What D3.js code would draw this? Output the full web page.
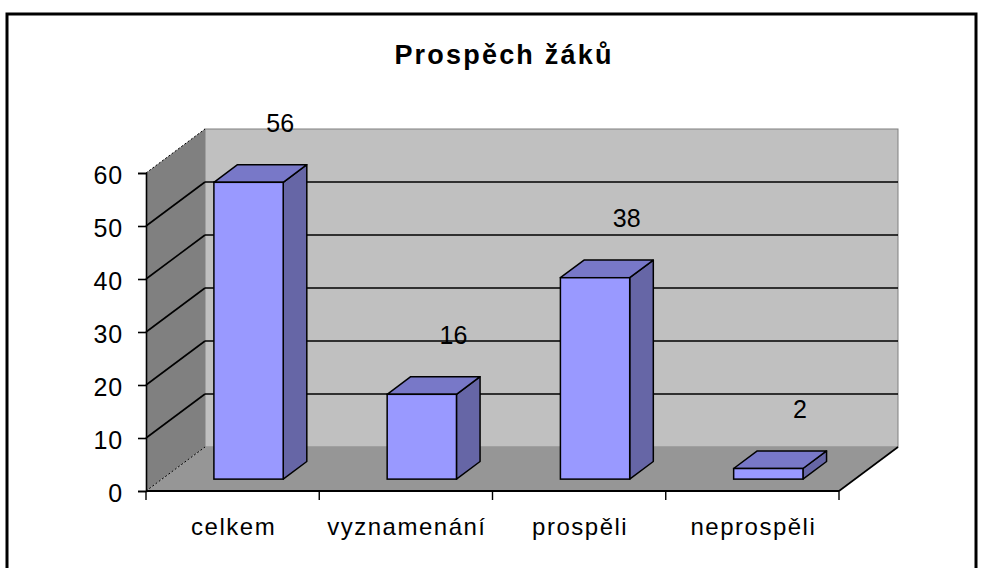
<!DOCTYPE html>
<html>
<head>
<meta charset="utf-8">
<script src="https://cdn.jsdelivr.net/npm/d3@7"></script>
<style>
  body { margin: 0; background: #fff; }
  text { font-family: "Liberation Sans", Arial, sans-serif; fill: #000; }
</style>
</head>
<body>
<script>
// Chart data
var title = 'Prospěch žáků';
var categories = ['celkem', 'vyznamenání', 'prospěli', 'neprospěli'];
var values = [56, 16, 38, 2];
var yTicks = [0, 10, 20, 30, 40, 50, 60];

// Plot boundaries (front plane of the 3D box)
var W = 986, H = 568;
var front = {left: 146, right: 839, top: 173, bottom: 491};
var depthX = 59, depthY = -44;           // oblique offset of the back wall
var barFront = 0.27, barBack = 0.67;     // bar position inside the depth

var xScale = d3.scaleBand().domain(categories).range([front.left, front.right]),
    yScale = d3.scaleLinear().domain([0, 60]).range([front.bottom, front.top]),
    zScale = d3.scaleLinear().domain([0, 1]).range([0, 1]);

function px(x, z) { return x + depthX * zScale(z); }
function py(y, z) { return y + depthY * zScale(z); }
function poly(pts) { return pts.map(function(p) { return p.join(','); }).join(' '); }

var svg = d3.select('body').append('svg')
    .attr('width', W)
    .attr('height', H);

// Outer chart border
svg.append('rect')
   .attr('x', 7).attr('y', 14)
   .attr('width', 969).attr('height', 620)
   .attr('fill', '#fff')
   .attr('stroke', '#000')
   .attr('stroke-width', 3);

// Title
svg.append('text')
   .text(title)
   .attr('x', 504).attr('y', 64)
   .attr('text-anchor', 'middle')
   .style('font-size', '27px')
   .style('font-weight', 'bold')
   .style('letter-spacing', '2.2px');

var y0 = yScale(0), yTop = yScale(60);

// Back wall
svg.append('rect')
   .attr('x', px(front.left, 1)).attr('y', py(yTop, 1))
   .attr('width', front.right - front.left)
   .attr('height', y0 - yTop)
   .attr('fill', '#c0c0c0')
   .attr('stroke', '#808080')
   .attr('stroke-width', 1);

// Left wall
svg.append('polygon')
   .attr('points', poly([[front.left, yTop], [px(front.left, 1), py(yTop, 1)],
                         [px(front.left, 1), py(y0, 1)], [front.left, y0]]))
   .attr('fill', '#808080');

// Floor
svg.append('polygon')
   .attr('points', poly([[front.left, y0], [front.right, y0],
                         [px(front.right, 1), py(y0, 1)], [px(front.left, 1), py(y0, 1)]]))
   .attr('fill', '#969696');

// Gridlines on back and left walls
var grid = yTicks.filter(function(t) { return t > 0 && t < 60; });
svg.selectAll('.gridBack').data(grid).enter().append('line')
   .attr('x1', px(front.left, 1)).attr('x2', px(front.right, 1))
   .attr('y1', function(d) { return py(yScale(d), 1); })
   .attr('y2', function(d) { return py(yScale(d), 1); })
   .attr('stroke', '#000').attr('stroke-width', 1.6);
svg.selectAll('.gridLeft').data(grid).enter().append('line')
   .attr('x1', front.left).attr('x2', px(front.left, 1))
   .attr('y1', function(d) { return yScale(d); })
   .attr('y2', function(d) { return py(yScale(d), 1); })
   .attr('stroke', '#000').attr('stroke-width', 1.6);

// Dotted edges of the left wall
[60, 0].forEach(function(t) {
  svg.append('line')
     .attr('x1', front.left).attr('y1', yScale(t))
     .attr('x2', px(front.left, 1)).attr('y2', py(yScale(t), 1))
     .attr('stroke', '#000').attr('stroke-width', 1)
     .attr('stroke-dasharray', '2,2');
});

// Right edge of the floor
svg.append('line')
   .attr('x1', front.right).attr('y1', y0)
   .attr('x2', px(front.right, 1)).attr('y2', py(y0, 1))
   .attr('stroke', '#000').attr('stroke-width', 1.6);

// Bars
var bw = xScale.bandwidth() * 0.4,
    bOff = (xScale.bandwidth() - bw) / 2,
    dz = barBack - barFront;

var bars = svg.selectAll('.bar').data(values).enter().append('g');

bars.each(function(v, i) {
  var g = d3.select(this);
  var x0 = px(xScale(categories[i]) + bOff, barFront),
      x1 = x0 + bw,
      yT = py(yScale(v), barFront),
      yB = py(y0, barFront),
      ox = depthX * dz, oy = depthY * dz;

  g.append('polygon')   // side
   .attr('points', poly([[x1, yT], [x1 + ox, yT + oy], [x1 + ox, yB + oy], [x1, yB]]))
   .attr('fill', '#6666a6').attr('stroke', '#000').attr('stroke-width', 1.5)
   .attr('stroke-linejoin', 'round');
  g.append('polygon')   // top
   .attr('points', poly([[x0, yT], [x1, yT], [x1 + ox, yT + oy], [x0 + ox, yT + oy]]))
   .attr('fill', '#7878c8').attr('stroke', '#000').attr('stroke-width', 1.5)
   .attr('stroke-linejoin', 'round');
  g.append('rect')      // front
   .attr('x', x0).attr('y', yT)
   .attr('width', bw).attr('height', yB - yT)
   .attr('fill', '#9999ff').attr('stroke', '#000').attr('stroke-width', 1.5);

  // Value label
  svg.append('text')
     .text(v)
     .attr('x', (x0 + x1) / 2 + ox + 8)
     .attr('y', yT + oy - 33)
     .attr('text-anchor', 'middle')
     .style('font-size', '25px');
});

// Y-axis
var yAxis = svg.append('g')
   .attr('transform', 'translate(' + front.left + ',0)')
   .call(d3.axisLeft(yScale).tickValues(yTicks).tickSize(8).tickPadding(15));
yAxis.select('.domain').attr('stroke', '#000').attr('stroke-width', 1.6);
yAxis.selectAll('.tick line').attr('stroke', '#000').attr('stroke-width', 1.6);
yAxis.selectAll('.tick text')
   .attr('dy', '0.4em')
   .style('font-family', '"Liberation Sans", Arial, sans-serif')
   .style('font-size', '25px')
   .style('letter-spacing', '0.8px');

// X-axis: front floor edge, ticks on band boundaries, labels in band centers
svg.append('line')
   .attr('x1', front.left).attr('x2', front.right)
   .attr('y1', y0).attr('y2', y0)
   .attr('stroke', '#000').attr('stroke-width', 2);

var bounds = categories.map(function(c) { return xScale(c); }).concat([front.right]);
svg.selectAll('.xtick').data(bounds).enter().append('line')
   .attr('x1', function(d) { return d; }).attr('x2', function(d) { return d; })
   .attr('y1', y0).attr('y2', y0 + 9)
   .attr('stroke', '#000').attr('stroke-width', 1.4);

svg.selectAll('.xlabel').data(categories).enter().append('text')
   .text(function(d) { return d; })
   .attr('x', function(d) { return xScale(d) + xScale.bandwidth() / 2 + 1; })
   .attr('y', 535)
   .attr('text-anchor', 'middle')
   .style('font-size', '24px')
   .style('letter-spacing', '1.5px');
</script>
</body>
</html>
